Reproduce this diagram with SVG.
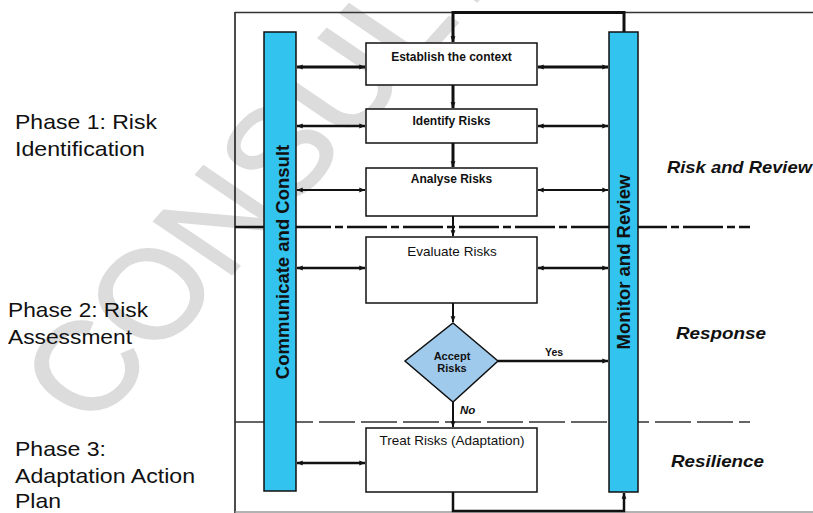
<svg xmlns="http://www.w3.org/2000/svg" width="813" height="513" viewBox="0 0 813 513">
<defs>
<style>
.t{font-family:"Liberation Sans",Arial,sans-serif;fill:#111}
.ph{font-size:21px}
.bx{font-size:12px;font-weight:bold;text-anchor:middle}
.bxn{font-size:13.5px;text-anchor:middle}
.bar{fill:#33c3ef;stroke:#111;stroke-width:1.5}
.box{fill:#fff;stroke:#111;stroke-width:1.5}
.lbl{font-size:16.5px;font-weight:bold;font-style:italic}
.vt{font-size:18.5px;font-weight:bold;text-anchor:middle}
.c{stroke:#111;fill:none}
</style>
<marker id="ah" viewBox="0 0 10 10" refX="9.5" refY="5" markerWidth="6" markerHeight="6" markerUnits="userSpaceOnUse" orient="auto-start-reverse"><path d="M0,1 L10,5 L0,9 z" fill="#111"/></marker>
</defs>
<rect width="813" height="513" fill="#fff"/>
<g id="watermark">
<text class="t" x="0" y="0" transform="translate(92 430) scale(1.15 1) rotate(-52)" style="font-size:125px;fill:#dcdcdc;stroke:#dcdcdc;stroke-width:2">CONSULT</text>
</g>
<g id="frame">
<line x1="235" y1="12" x2="235" y2="513" stroke="#111" stroke-width="1.5"/>
<line x1="235" y1="12.5" x2="813" y2="12.5" stroke="#333" stroke-width="1.5"/>
<line x1="235" y1="512" x2="813" y2="512" stroke="#999" stroke-width="1.5"/>
<line x1="235" y1="227" x2="750" y2="227" stroke="#111" stroke-width="2.5" stroke-dasharray="40 4 8 4"/>
<line x1="235" y1="422" x2="750" y2="422" stroke="#333" stroke-width="1.5" stroke-dasharray="36 6"/>
</g>
<g id="phase-labels">
<text class="t ph" x="15" y="129" textLength="142" lengthAdjust="spacingAndGlyphs">Phase 1: Risk</text>
<text class="t ph" x="15" y="156" textLength="130" lengthAdjust="spacingAndGlyphs">Identification</text>
<text class="t ph" x="8" y="317" textLength="140" lengthAdjust="spacingAndGlyphs">Phase 2: Risk</text>
<text class="t ph" x="8" y="344" textLength="124" lengthAdjust="spacingAndGlyphs">Assessment</text>
<text class="t ph" x="15" y="456" textLength="91" lengthAdjust="spacingAndGlyphs">Phase 3:</text>
<text class="t ph" x="15" y="483" textLength="180" lengthAdjust="spacingAndGlyphs">Adaptation Action</text>
<text class="t ph" x="15" y="508" textLength="46" lengthAdjust="spacingAndGlyphs">Plan</text>
</g>
<g id="zone-labels">
<text class="t lbl" x="667" y="173" textLength="145" lengthAdjust="spacingAndGlyphs">Risk and Review</text>
<text class="t lbl" x="676" y="339" textLength="90" lengthAdjust="spacingAndGlyphs">Response</text>
<text class="t lbl" x="671" y="467" textLength="93" lengthAdjust="spacingAndGlyphs">Resilience</text>
</g>
<g id="communicate">
<rect class="bar" x="264" y="32" width="32" height="459"/>
<text class="t vt" x="0" y="0" transform="translate(288.5 262) rotate(-90)">Communicate and Consult</text>
</g>
<g id="monitor">
<rect class="bar" x="609" y="32" width="29" height="460"/>
<text class="t vt" x="0" y="0" transform="translate(630 262) rotate(-90)">Monitor and Review</text>
</g>
<g id="establish">
<rect class="box" x="366" y="43" width="171" height="42"/>
<text class="t bx" x="451.5" y="61">Establish the context</text>
</g>
<g id="identify">
<rect class="box" x="366" y="109" width="171" height="34"/>
<text class="t bx" x="451.5" y="125">Identify Risks</text>
</g>
<g id="analyse">
<rect class="box" x="366" y="168" width="171" height="48"/>
<text class="t bx" x="451.5" y="183">Analyse Risks</text>
</g>
<g id="evaluate">
<rect class="box" x="366" y="237" width="171" height="66"/>
<text class="t bxn" x="452" y="256">Evaluate Risks</text>
</g>
<g id="accept">
<polygon points="453,323 498,361 453,402 405,361" fill="#9fcaec" stroke="#111" stroke-width="1.5"/>
<text class="t" x="452" y="360" text-anchor="middle" style="font-size:11px;font-weight:bold">Accept</text>
<text class="t" x="452" y="372" text-anchor="middle" style="font-size:11px;font-weight:bold">Risks</text>
</g>
<g id="treat">
<rect class="box" x="366" y="428" width="171" height="64"/>
<text class="t bxn" x="452" y="445">Treat Risks (Adaptation)</text>
</g>
<g id="connectors">
<path class="c" d="M624,32 V12.5 H453 V42" stroke-width="3" marker-end="url(#ah)"/>
<path class="c" d="M453,492 V511 H624 V493" stroke-width="2.5" marker-end="url(#ah)"/>
<line class="c" x1="453" y1="85" x2="453" y2="108" stroke-width="3" marker-end="url(#ah)"/>
<line class="c" x1="453" y1="143" x2="453" y2="167" stroke-width="3" marker-end="url(#ah)"/>
<line class="c" x1="453" y1="216" x2="453" y2="236" stroke-width="2" marker-end="url(#ah)"/>
<line class="c" x1="453" y1="303" x2="453" y2="322" stroke-width="2" marker-end="url(#ah)"/>
<line class="c" x1="453" y1="402" x2="453" y2="427" stroke-width="2" marker-end="url(#ah)"/>
<line class="c" x1="498" y1="361" x2="608" y2="361" stroke-width="2.5" marker-end="url(#ah)"/>
<line class="c" x1="297" y1="67" x2="365" y2="67" stroke-width="3" marker-start="url(#ah)" marker-end="url(#ah)"/>
<line class="c" x1="538" y1="67" x2="608" y2="67" stroke-width="3" marker-start="url(#ah)" marker-end="url(#ah)"/>
<line class="c" x1="297" y1="126" x2="365" y2="126" stroke-width="2.5" marker-start="url(#ah)" marker-end="url(#ah)"/>
<line class="c" x1="538" y1="126" x2="608" y2="126" stroke-width="2.5" marker-start="url(#ah)" marker-end="url(#ah)"/>
<line class="c" x1="297" y1="190" x2="365" y2="190" stroke-width="2" marker-start="url(#ah)" marker-end="url(#ah)"/>
<line class="c" x1="538" y1="190" x2="608" y2="190" stroke-width="2" marker-start="url(#ah)" marker-end="url(#ah)"/>
<line class="c" x1="297" y1="268" x2="365" y2="268" stroke-width="2.5" marker-start="url(#ah)" marker-end="url(#ah)"/>
<line class="c" x1="538" y1="268" x2="608" y2="268" stroke-width="2.5" marker-start="url(#ah)" marker-end="url(#ah)"/>
<line class="c" x1="297" y1="463" x2="365" y2="463" stroke-width="2.5" marker-start="url(#ah)" marker-end="url(#ah)"/>
<text class="t" x="545" y="356" style="font-size:10.5px;font-weight:bold">Yes</text>
<text class="t" x="460" y="414" style="font-size:11.5px;font-weight:bold;font-style:italic">No</text>
</g>
</svg>
